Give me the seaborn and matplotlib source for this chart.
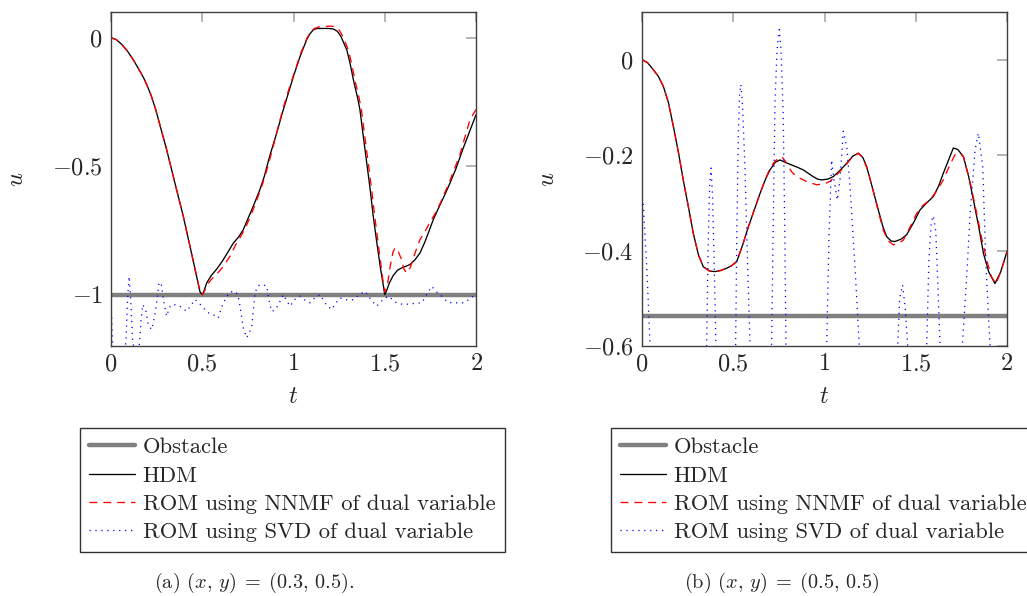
import numpy as np
import pandas as pd
import matplotlib
matplotlib.use("Agg")
import matplotlib.pyplot as plt
from matplotlib.ticker import FuncFormatter
import seaborn as sns

# Values.
# (a) point (x, y) = (0.3, 0.5)
obst_a = -1.0
hdm_a_t = [0, 0.03, 0.06, 0.09, 0.122, 0.15, 0.18, 0.20, 0.22, 0.245, 0.27, 0.305, 0.35, 0.396, 0.44,
           0.488, 0.5, 0.51, 0.524, 0.55, 0.58, 0.61, 0.64, 0.67, 0.70, 0.725, 0.75, 0.78, 0.816,
           0.84, 0.87, 0.908, 0.94, 0.97, 1.0, 1.036, 1.072, 1.09, 1.109, 1.13, 1.16, 1.19, 1.218,
           1.24, 1.26, 1.275, 1.292, 1.31, 1.33, 1.35, 1.364, 1.38, 1.40, 1.42, 1.437, 1.455, 1.475,
           1.49, 1.50, 1.51, 1.525, 1.547, 1.57, 1.593, 1.615, 1.638, 1.665, 1.693, 1.72, 1.745, 1.766,
           1.80, 1.83, 1.858, 1.89, 1.93, 1.965, 2.0]
hdm_a_u = [0, -0.008, -0.027, -0.052, -0.086, -0.12, -0.158, -0.19, -0.225, -0.28, -0.345, -0.436, -0.565, -0.695, -0.835,
           -0.99, -1.0, -0.985, -0.955, -0.925, -0.90, -0.87, -0.835, -0.80, -0.775, -0.747, -0.705, -0.655, -0.591,
           -0.54, -0.46, -0.371, -0.29, -0.22, -0.15, -0.073, -0.008, 0.015, 0.031, 0.036, 0.036, 0.036, 0.034,
           0.025, 0.005, -0.02, -0.047, -0.10, -0.17, -0.23, -0.28, -0.37, -0.48, -0.59, -0.695, -0.79, -0.89,
           -0.955, -1.0, -0.985, -0.955, -0.925, -0.905, -0.896, -0.89, -0.883, -0.865, -0.838, -0.795, -0.748, -0.708,
           -0.655, -0.61, -0.565, -0.51, -0.43, -0.365, -0.30]
nnmf_a_t = [0, 0.03, 0.06, 0.09, 0.122, 0.15, 0.18, 0.20, 0.22, 0.245, 0.27, 0.305, 0.35, 0.396, 0.44,
            0.488, 0.5, 0.51, 0.524, 0.55, 0.58, 0.61, 0.652, 0.68, 0.71, 0.74, 0.77, 0.80, 0.83,
            0.86, 0.89, 0.915, 0.945, 0.975, 1.005, 1.04, 1.075, 1.095, 1.115, 1.14, 1.17, 1.2, 1.225,
            1.25, 1.27, 1.285, 1.30, 1.318, 1.338, 1.358, 1.372, 1.388, 1.408, 1.428, 1.445, 1.462, 1.48,
            1.492, 1.50, 1.515, 1.53, 1.545, 1.556, 1.57, 1.59, 1.605, 1.62, 1.64, 1.665, 1.693, 1.72,
            1.75, 1.78, 1.81, 1.858, 1.912, 1.94, 1.967, 2.0]
nnmf_a_u = [0, -0.008, -0.027, -0.052, -0.086, -0.12, -0.158, -0.19, -0.225, -0.28, -0.345, -0.436, -0.565, -0.695, -0.835,
            -0.99, -1.0, -0.99, -0.965, -0.94, -0.92, -0.895, -0.851, -0.81, -0.775, -0.735, -0.685, -0.63, -0.57,
            -0.50, -0.42, -0.35, -0.27, -0.20, -0.135, -0.06, 0.0, 0.022, 0.036, 0.042, 0.044, 0.045, 0.044,
            0.03, 0.005, -0.02, -0.047, -0.10, -0.17, -0.23, -0.28, -0.37, -0.48, -0.59, -0.695, -0.79, -0.89,
            -0.955, -0.99, -0.96, -0.89, -0.835, -0.818, -0.825, -0.86, -0.90, -0.916, -0.895, -0.84, -0.786, -0.755,
            -0.715, -0.68, -0.635, -0.555, -0.455, -0.385, -0.319, -0.28]
svd_a_t = [0, 0.01, 0.04, 0.075, 0.082, 0.09, 0.099, 0.108, 0.119, 0.14, 0.155, 0.165,
           0.174, 0.19, 0.205, 0.223, 0.24, 0.25, 0.262, 0.274, 0.29, 0.305, 0.32, 0.332,
           0.36, 0.39, 0.414, 0.44, 0.46, 0.48, 0.497, 0.53, 0.56, 0.588, 0.605, 0.625,
           0.65, 0.679, 0.695, 0.707, 0.725, 0.743, 0.758, 0.771, 0.78, 0.789, 0.806, 0.826,
           0.853, 0.865, 0.88, 0.9, 0.917, 0.944, 0.96, 0.981, 1.005, 1.036, 1.06, 1.09,
           1.12, 1.145, 1.18, 1.209, 1.235, 1.255, 1.29, 1.328, 1.36, 1.392, 1.425, 1.456,
           1.49, 1.519, 1.56, 1.602, 1.65, 1.703, 1.73, 1.757, 1.785, 1.812, 1.845, 1.876,
           1.93, 1.96, 1.985, 2.0]
svd_a_u = [-1.02, -1.22, -1.30, -1.22, -1.18, -1.03, -0.929, -1.02, -1.188, -1.24, -1.2, -1.10,
           -1.039, -1.06, -1.12, -1.136, -1.08, -1.032, -0.96, -0.952, -1.03, -1.084, -1.05, -1.039,
           -1.04, -1.05, -1.065, -1.04, -1.019, -1.03, -1.045, -1.07, -1.078, -1.091, -1.05, -1.019,
           -0.99, -0.987, -1.0, -1.045, -1.13, -1.168, -1.15, -1.123, -1.06, -0.993, -0.965, -0.961,
           -0.966, -1.02, -1.065, -1.06, -1.039, -1.0, -1.02, -1.045, -1.02, -1.006, -1.02, -1.032,
           -1.01, -1.0, -1.04, -1.058, -1.03, -1.013, -1.02, -1.02, -1.0, -0.987, -1.02, -1.045,
           -1.02, -1.006, -1.03, -1.039, -1.035, -1.032, -1.0, -0.968, -0.99, -1.006, -1.03, -1.032,
           -1.032, -1.02, -1.006, -1.0]

# (b) point (x, y) = (0.5, 0.5)
obst_b = -0.537
hdm_b_t = [0, 0.03, 0.06, 0.09, 0.117, 0.145, 0.172, 0.2, 0.226, 0.255, 0.281, 0.31, 0.336, 0.37,
           0.4, 0.43, 0.464, 0.49, 0.519, 0.55, 0.583, 0.615, 0.647, 0.675, 0.701, 0.73, 0.756, 0.79,
           0.829, 0.855, 0.884, 0.93, 0.96, 0.985, 1.02, 1.048, 1.085, 1.122, 1.155, 1.185, 1.21, 1.231,
           1.26, 1.295, 1.32, 1.341, 1.365, 1.386, 1.42, 1.45, 1.49, 1.523, 1.56, 1.596, 1.625, 1.651,
           1.68, 1.706, 1.73, 1.761, 1.79, 1.816, 1.845, 1.871, 1.9, 1.934, 1.965, 2.0]
hdm_b_u = [0, -0.006, -0.02, -0.035, -0.056, -0.09, -0.14, -0.195, -0.252, -0.31, -0.364, -0.41, -0.434, -0.443,
           -0.444, -0.442, -0.437, -0.432, -0.423, -0.39, -0.350, -0.315, -0.280, -0.252, -0.231, -0.215, -0.210, -0.216,
           -0.222, -0.226, -0.231, -0.243, -0.25, -0.252, -0.25, -0.245, -0.232, -0.217, -0.202, -0.196, -0.205, -0.224,
           -0.265, -0.315, -0.35, -0.371, -0.38, -0.381, -0.376, -0.367, -0.34, -0.315, -0.30, -0.287, -0.265, -0.238,
           -0.21, -0.185, -0.188, -0.203, -0.245, -0.294, -0.35, -0.406, -0.445, -0.469, -0.445, -0.402]
nnmf_b_t = [0, 0.03, 0.06, 0.09, 0.117, 0.145, 0.172, 0.2, 0.226, 0.255, 0.281, 0.31, 0.336, 0.37,
            0.4, 0.43, 0.464, 0.49, 0.519, 0.55, 0.583, 0.615, 0.647, 0.675, 0.701, 0.73, 0.765, 0.79,
            0.82, 0.848, 0.9, 0.957, 1.0, 1.03, 1.07, 1.11, 1.15, 1.185, 1.21, 1.24, 1.27, 1.295,
            1.322, 1.35, 1.377, 1.405, 1.432, 1.47, 1.505, 1.54, 1.577, 1.615, 1.651, 1.685, 1.715, 1.74,
            1.761, 1.8, 1.834, 1.862, 1.889, 1.915, 1.94, 1.97, 2.0]
nnmf_b_u = [0, -0.006, -0.02, -0.035, -0.056, -0.09, -0.14, -0.195, -0.252, -0.31, -0.364, -0.41, -0.434, -0.443,
            -0.444, -0.442, -0.437, -0.432, -0.423, -0.39, -0.350, -0.315, -0.280, -0.252, -0.228, -0.212, -0.203, -0.215,
            -0.235, -0.245, -0.255, -0.262, -0.26, -0.255, -0.24, -0.224, -0.205, -0.196, -0.205, -0.235, -0.28, -0.318,
            -0.357, -0.38, -0.388, -0.385, -0.378, -0.35, -0.322, -0.305, -0.294, -0.275, -0.252, -0.222, -0.199, -0.196,
            -0.203, -0.26, -0.322, -0.375, -0.42, -0.455, -0.47, -0.44, -0.402]
svd_b_t = [0, 0.007, 0.015, 0.026, 0.044, 0.07, 0.15, 0.25, 0.33, 0.354, 0.362, 0.37,
           0.378, 0.386, 0.395, 0.405, 0.44, 0.49, 0.513, 0.52, 0.528, 0.535, 0.542, 0.55,
           0.564, 0.578, 0.592, 0.63, 0.68, 0.71, 0.72, 0.729, 0.74, 0.752, 0.762, 0.774,
           0.782, 0.789, 0.83, 0.93, 1.0, 1.012, 1.025, 1.039, 1.052, 1.07, 1.085, 1.103,
           1.122, 1.14, 1.167, 1.19, 1.24, 1.33, 1.38, 1.401, 1.412, 1.428, 1.442, 1.456,
           1.49, 1.54, 1.56, 1.572, 1.585, 1.596, 1.61, 1.622, 1.633, 1.68, 1.74, 1.755,
           1.78, 1.797, 1.825, 1.843, 1.867, 1.885, 1.907, 1.95, 2.0]
svd_b_u = [-0.29, -0.30, -0.36, -0.434, -0.595, -0.75, -0.88, -0.85, -0.70, -0.60, -0.40, -0.27,
           -0.227, -0.28, -0.42, -0.60, -0.80, -0.78, -0.60, -0.35, -0.154, -0.07, -0.052, -0.09,
           -0.224, -0.42, -0.60, -0.80, -0.78, -0.60, -0.32, -0.084, 0.02, 0.063, 0.02, -0.119,
           -0.35, -0.60, -0.82, -0.85, -0.70, -0.60, -0.364, -0.21, -0.252, -0.294, -0.252, -0.15,
           -0.182, -0.266, -0.434, -0.595, -0.80, -0.82, -0.70, -0.60, -0.50, -0.472, -0.52, -0.60,
           -0.78, -0.75, -0.60, -0.42, -0.34, -0.327, -0.36, -0.48, -0.60, -0.82, -0.75, -0.60,
           -0.45, -0.329, -0.189, -0.154, -0.224, -0.434, -0.60, -0.85, -0.95]

captions = [r"(a) $(x,\,y)\;=\;(0.3,\,0.5)$.", r"(b) $(x,\,y)\;=\;(0.5,\,0.5)$"]
labels = ["Obstacle", "HDM", "ROM using NNMF of dual variable", "ROM using SVD of dual variable"]

sns.set_theme(style="white")
plt.rcParams["font.family"] = ["cmr10", "DejaVu Serif"]
plt.rcParams["mathtext.fontset"] = "cm"
plt.rcParams["axes.formatter.use_mathtext"] = True
plt.rcParams["axes.unicode_minus"] = False

fig = plt.figure(figsize=(10.27, 5.96), dpi=100)
ax_a = fig.add_axes([111 / 1027, 1 - 346 / 596, 365 / 1027, 334 / 596])
ax_b = fig.add_axes([642 / 1027, 1 - 346 / 596, 365 / 1027, 334 / 596])

panels = [
    (ax_a, obst_a, hdm_a_t, hdm_a_u, nnmf_a_t, nnmf_a_u, svd_a_t, svd_a_u, (-1.2, 0.1), [-1, -0.5, 0]),
    (ax_b, obst_b, hdm_b_t, hdm_b_u, nnmf_b_t, nnmf_b_u, svd_b_t, svd_b_u, (-0.6, 0.1), [-0.6, -0.4, -0.2, 0]),
]

fmt = FuncFormatter(lambda v, pos: "$%g$" % v)

for ax, obst, ht, hu, nt, nu, st, su, ylim, yticks in panels:
    sns.lineplot(x=[0, 2], y=[obst, obst], ax=ax, color="#808080", lw=3.2,
                 label=labels[0], estimator=None, sort=False)
    sns.lineplot(x=ht, y=hu, ax=ax, color="black", lw=0.95,
                 label=labels[1], estimator=None, sort=False)
    sns.lineplot(x=nt, y=nu, ax=ax, color="#ff0000", lw=0.95, linestyle=(0, (6, 4.5)),
                 label=labels[2], estimator=None, sort=False)
    sns.lineplot(x=st, y=su, ax=ax, color="#0000ff", lw=0.95, linestyle=(0, (0.9, 3.6)),
                 label=labels[3], estimator=None, sort=False)
    ax.set_xlim(0, 2)
    ax.set_ylim(*ylim)
    ax.set_xticks([0, 0.5, 1, 1.5, 2])
    ax.set_yticks(yticks)
    ax.xaxis.set_major_formatter(fmt)
    ax.yaxis.set_major_formatter(fmt)
    ax.tick_params(direction="in", top=True, right=True, length=7, width=1.1,
                   color="#a0a0a0", labelsize=17.5, pad=6)
    ax.tick_params(axis="x", pad=5)
    for sp in ax.spines.values():
        sp.set_color("#404040")
        sp.set_linewidth(1.0)
    ax.set_xlabel("$t$", fontsize=17.5, labelpad=8)
    ax.set_ylabel("$u$", fontsize=17.5, labelpad=17)
    leg = ax.legend(loc="upper left", bbox_to_anchor=(-0.085, -0.2455), borderaxespad=0,
                    fontsize=16.3, frameon=True, fancybox=False, edgecolor="black",
                    handlelength=2.0, handletextpad=0.35, labelspacing=0.37, borderpad=0.42)
    leg.get_frame().set_linewidth(1.0)

fig.text(254 / 1027, 1 - 583 / 596, captions[0], ha="center", va="center", fontsize=14.6)
fig.text(782 / 1027, 1 - 583 / 596, captions[1], ha="center", va="center", fontsize=14.6)

fig.savefig("out.png", dpi=100)
